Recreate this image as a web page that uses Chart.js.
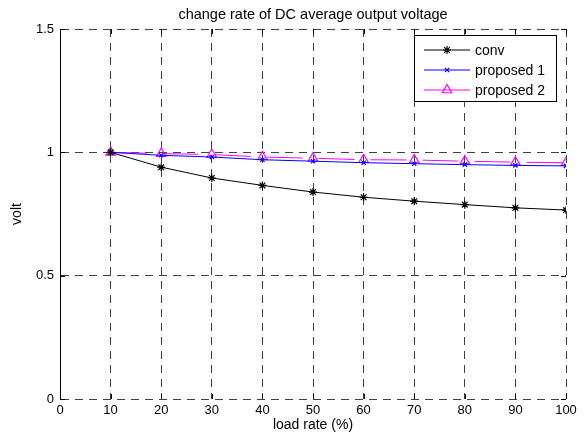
<!DOCTYPE html>
<html>
<head>
<meta charset="utf-8">
<script src="https://cdn.jsdelivr.net/npm/chart.js@4"></script>
<style>
  html, body { margin: 0; padding: 0; background: #fff; }
  #wrap { width: 586px; height: 437px; position: relative; }
</style>
</head>
<body>
<div id="wrap"><canvas id="chart"></canvas></div>
<script>
// Data
const loadRate = [10, 20, 30, 40, 50, 60, 70, 80, 90, 100];
const convValues = [1.000, 0.940, 0.896, 0.866, 0.839, 0.818, 0.802, 0.788, 0.775, 0.766];
const proposed1Values = [1.000, 0.988, 0.981, 0.970, 0.964, 0.958, 0.954, 0.950, 0.947, 0.945];
const proposed2Values = [1.000, 0.995, 0.991, 0.981, 0.976, 0.970, 0.969, 0.964, 0.960, 0.958];
const seriesLabels = ['conv', 'proposed 1', 'proposed 2'];
const xTicks = [0, 10, 20, 30, 40, 50, 60, 70, 80, 90, 100];
const yTicks = [0, 0.5, 1, 1.5];

const FONT = 'Arial, "Liberation Sans", Helvetica, sans-serif';
Chart.defaults.font.family = FONT;
Chart.defaults.color = '#000';

const toPoints = (vals) => vals.map((v, i) => ({ x: loadRate[i], y: v }));

// MATLAB style inward tick marks on all four sides
const innerTicks = {
    id: 'innerTicks',
    afterDatasetsDraw(chart) {
        const { ctx, chartArea: a, scales } = chart;
        ctx.save();
        ctx.strokeStyle = '#000';
        ctx.lineWidth = 1;
        ctx.beginPath();
        xTicks.forEach(t => {
            const px = Math.round(scales.x.getPixelForValue(t)) + 0.5;
            ctx.moveTo(px, a.bottom); ctx.lineTo(px, a.bottom - 5);
            ctx.moveTo(px, a.top); ctx.lineTo(px, a.top + 5);
        });
        yTicks.forEach(t => {
            const py = Math.round(scales.y.getPixelForValue(t)) + 0.5;
            ctx.moveTo(a.left, py); ctx.lineTo(a.left + 5, py);
            ctx.moveTo(a.right, py); ctx.lineTo(a.right - 5, py);
        });
        ctx.stroke();
        ctx.restore();
    }
};

// boxed legend in the upper right corner of the plot
const boxLegend = {
    id: 'boxLegend',
    afterDraw(chart) {
        const { ctx } = chart;
        const bx = 414.5, by = 35.5, bw = 142, bh = 66;
        ctx.save();
        ctx.fillStyle = '#fff';
        ctx.fillRect(bx, by, bw, bh);
        ctx.strokeStyle = '#000';
        ctx.lineWidth = 1;
        ctx.setLineDash([]);
        ctx.strokeRect(bx, by, bw, bh);
        ctx.font = '14px ' + FONT;
        ctx.textBaseline = 'middle';
        chart.data.datasets.forEach((ds, i) => {
            const y = 50 + i * 20;
            ctx.strokeStyle = ds.borderColor;
            ctx.lineWidth = ds.borderWidth;
            ctx.setLineDash([]);
            ctx.beginPath();
            ctx.moveTo(424, y); ctx.lineTo(470, y);
            ctx.stroke();
            ctx.strokeStyle = ds.pointBorderColor;
            ctx.fillStyle = ds.pointBackgroundColor;
            ctx.lineWidth = ds.pointBorderWidth;
            Chart.helpers.drawPoint(ctx, {
                pointStyle: ds.pointStyle,
                radius: ds.pointRadius,
                rotation: 0,
                borderWidth: ds.pointBorderWidth
            }, 447, y);
            ctx.fillStyle = '#000';
            ctx.fillText(ds.label, 475, y + 1);
        });
        ctx.restore();
    }
};

new Chart(document.getElementById('chart'), {
    type: 'line',
    data: {
        datasets: [
            {
                label: seriesLabels[0],
                data: toPoints(convValues),
                borderColor: '#000',
                borderWidth: 1,
                pointStyle: 'star',
                pointRadius: 4,
                pointBorderColor: '#000',
                pointBackgroundColor: '#000',
                pointBorderWidth: 1.2
            },
            {
                label: seriesLabels[1],
                data: toPoints(proposed1Values),
                borderColor: '#0000ff',
                borderWidth: 1,
                pointStyle: 'crossRot',
                pointRadius: 3,
                pointBorderColor: '#0000ff',
                pointBackgroundColor: '#0000ff',
                pointBorderWidth: 1.2
            },
            {
                label: seriesLabels[2],
                data: toPoints(proposed2Values),
                borderColor: '#ff00ff',
                borderWidth: 1,
                borderDash: [36, 16],
                pointStyle: 'triangle',
                pointRadius: 5.5,
                pointBorderColor: '#ff00ff',
                pointBackgroundColor: 'rgba(0,0,0,0)',
                pointBorderWidth: 1.2
            }
        ]
    },
    options: {
        responsive: true,
        maintainAspectRatio: false,
        animation: false,
        layout: { padding: { left: 0, right: 20, top: 0, bottom: 0 } },
        plugins: {
            legend: { display: false },
            tooltip: { enabled: false },
            title: {
                display: true,
                text: 'change rate of DC average output voltage',
                fullSize: false,
                color: '#000',
                font: { size: 14.5, weight: 'normal' },
                padding: { top: 6, bottom: 5.6 }
            }
        },
        scales: {
            x: {
                type: 'linear',
                min: 0,
                max: 100,
                afterFit(s) { s.height = 38; },
                afterBuildTicks(s) { s.ticks = xTicks.map(v => ({ value: v })); },
                ticks: { font: { size: 13 }, padding: 4, maxRotation: 0, autoSkip: false, callback: v => String(v) },
                grid: { color: '#404040', lineWidth: 1, drawTicks: false },
                border: { display: false, dash: [8, 6] },
                title: {
                    display: true,
                    text: 'load rate (%)',
                    font: { size: 14 },
                    padding: { top: 3, bottom: 3 }
                }
            },
            y: {
                min: 0,
                max: 1.5,
                afterFit(s) { s.width = 60; },
                afterBuildTicks(s) { s.ticks = yTicks.map(v => ({ value: v })); },
                ticks: { font: { size: 13 }, padding: 6, callback: v => String(v) },
                grid: { color: '#404040', lineWidth: 1, drawTicks: false },
                border: { display: true, color: '#000', width: 1, dash: [8, 6] },
                title: {
                    display: true,
                    text: 'volt',
                    font: { size: 14 },
                    padding: { top: 9, bottom: 9 }
                }
            }
        }
    },
    plugins: [innerTicks, boxLegend]
});
</script>
</body>
</html>
